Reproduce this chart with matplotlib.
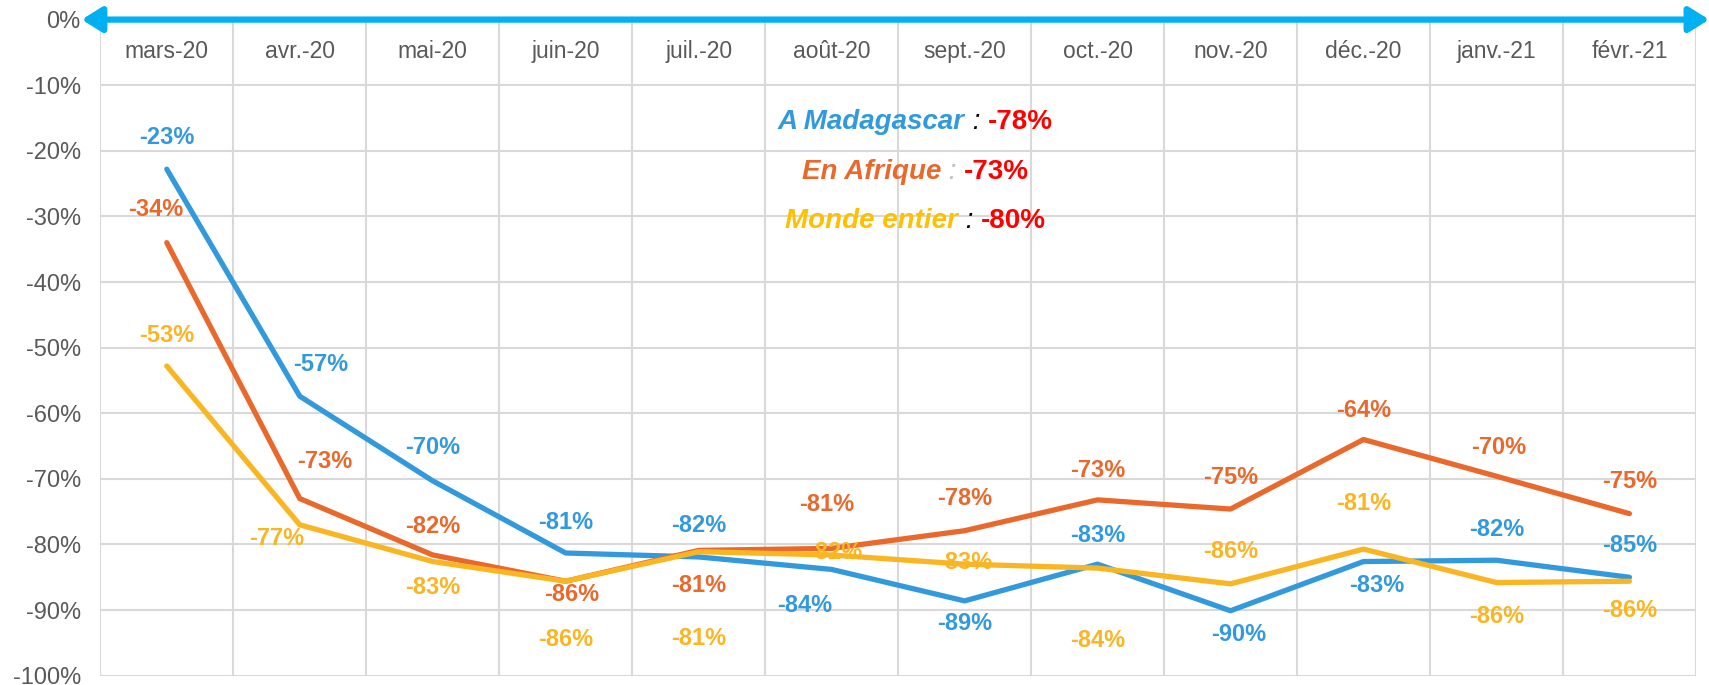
import matplotlib
matplotlib.use('Agg')
import matplotlib.pyplot as plt
from matplotlib.ticker import FuncFormatter
from matplotlib.offsetbox import TextArea, HPacker, AnnotationBbox

plt.rcParams['font.family'] = ['Liberation Sans', 'DejaVu Sans']

months = ['mars-20', 'avr.-20', 'mai-20', 'juin-20', 'juil.-20', 'août-20',
          'sept.-20', 'oct.-20', 'nov.-20', 'déc.-20', 'janv.-21', 'févr.-21']

madagascar = [-22.8, -57.4, -70.3, -81.3, -81.9, -83.8, -88.6, -83.0, -90.1, -82.6, -82.4, -85.0]
afrique = [-34.0, -73.0, -81.6, -85.6, -80.9, -80.6, -77.9, -73.2, -74.6, -64.0, -69.6, -75.3]
monde = [-52.8, -77.0, -82.6, -85.6, -81.1, -81.6, -83.0, -83.6, -86.0, -80.7, -85.8, -85.6]

summary_names = ['A Madagascar', 'En Afrique', 'Monde entier']
summary_values = ['-78%', '-73%', '-80%']

BLUE = '#329ADC'
ORANGE = '#E9692C'
YELLOW = '#F9B622'
RED = '#FF0000'
GRID = '#D9D9D9'
TXT = '#595959'

# label offsets (pixels, dx, dy with dy positive = up)
off_blue = [(0, 32), (21, 32), (0, 33), (0, 31), (0, 31), (-27, -36),
            (0, -23), (0, 29), (8, -24), (13, -24), (0, 31), (0, 32)]
off_orange = [(-11, 33), (25, 37), (0, 28), (6, -13), (0, -35), (-5, 44),
              (0, 32), (0, 29), (0, 32), (0, 29), (2, 29), (0, 32)]
off_yellow = [(0, 31), (-23, -14), (0, -26), (0, -58), (0, -87), (3, 2),
              (0, 2), (0, -72), (0, 32), (0, 46), (0, -34), (0, -29)]

fig = plt.figure(figsize=(17.09, 6.85), dpi=100)
ax = fig.add_axes([100.3 / 1709, 9.3 / 685, 1595.6 / 1709, 656.1 / 685])

x = [i + 0.5 for i in range(len(months))]

for vals, col in [(madagascar, BLUE), (afrique, ORANGE), (monde, YELLOW)]:
    ax.plot(x, vals, color=col, lw=3.8, solid_capstyle='round',
            solid_joinstyle='round', zorder=3)

for vals, col, offs in [(madagascar, BLUE, off_blue), (afrique, ORANGE, off_orange),
                        (monde, YELLOW, off_yellow)]:
    for xi, v, (dx, dy) in zip(x, vals, offs):
        ax.annotate(f'{v:.0f}%', (xi, v), xytext=(dx, dy), textcoords='offset pixels',
                    ha='center', va='center', color=col, fontsize=17,
                    fontweight='bold', zorder=4)

ax.set_xlim(0, 12)
ax.set_ylim(-100, 0)
ax.set_xticks(range(13))
ax.set_xticklabels([])
ax.set_yticks(range(-100, 1, 10))
ax.yaxis.set_major_formatter(FuncFormatter(lambda v, p: f'{v:.0f}%'))
ax.tick_params(axis='both', length=0)
ax.tick_params(axis='y', labelsize=17, labelcolor=TXT, pad=14)
ax.grid(True, color=GRID, lw=1.5, zorder=0)
for s in ax.spines.values():
    s.set_visible(False)

for xi, m in zip(x, months):
    ax.text(xi, -4.8, m, ha='center', va='center', fontsize=16.5, color=TXT)

# arrow along the 0% line
ax.annotate('', xy=(12.1, 0), xytext=(-0.14, 0), xycoords='data',
            arrowprops=dict(arrowstyle='<|-|>,head_length=0.4,head_width=0.25',
                            color='#00B0F0', lw=4.5, mutation_scale=30,
                            shrinkA=0, shrinkB=0),
            annotation_clip=False, zorder=5)

# summary box
colon_colors = ['black', '#BFBFBF', 'black']
name_colors = [BLUE, ORANGE, '#FFC000']
ys = [-15.6, -23.3, -30.7]
for name, val, ncol, ccol, yy in zip(summary_names, summary_values, name_colors, colon_colors, ys):
    parts = [
        TextArea(name, textprops=dict(color=ncol, fontsize=20, fontweight='bold', style='italic')),
        TextArea(' : ', textprops=dict(color=ccol, fontsize=20, style='italic')),
        TextArea(val, textprops=dict(color=RED, fontsize=20, fontweight='bold')),
    ]
    box = HPacker(children=parts, align='baseline', pad=0, sep=0)
    ab = AnnotationBbox(box, (6.13, yy), xycoords='data', box_alignment=(0.5, 0.5),
                        frameon=False, pad=0, zorder=6)
    ax.add_artist(ab)

fig.savefig('out.png', dpi=100)
